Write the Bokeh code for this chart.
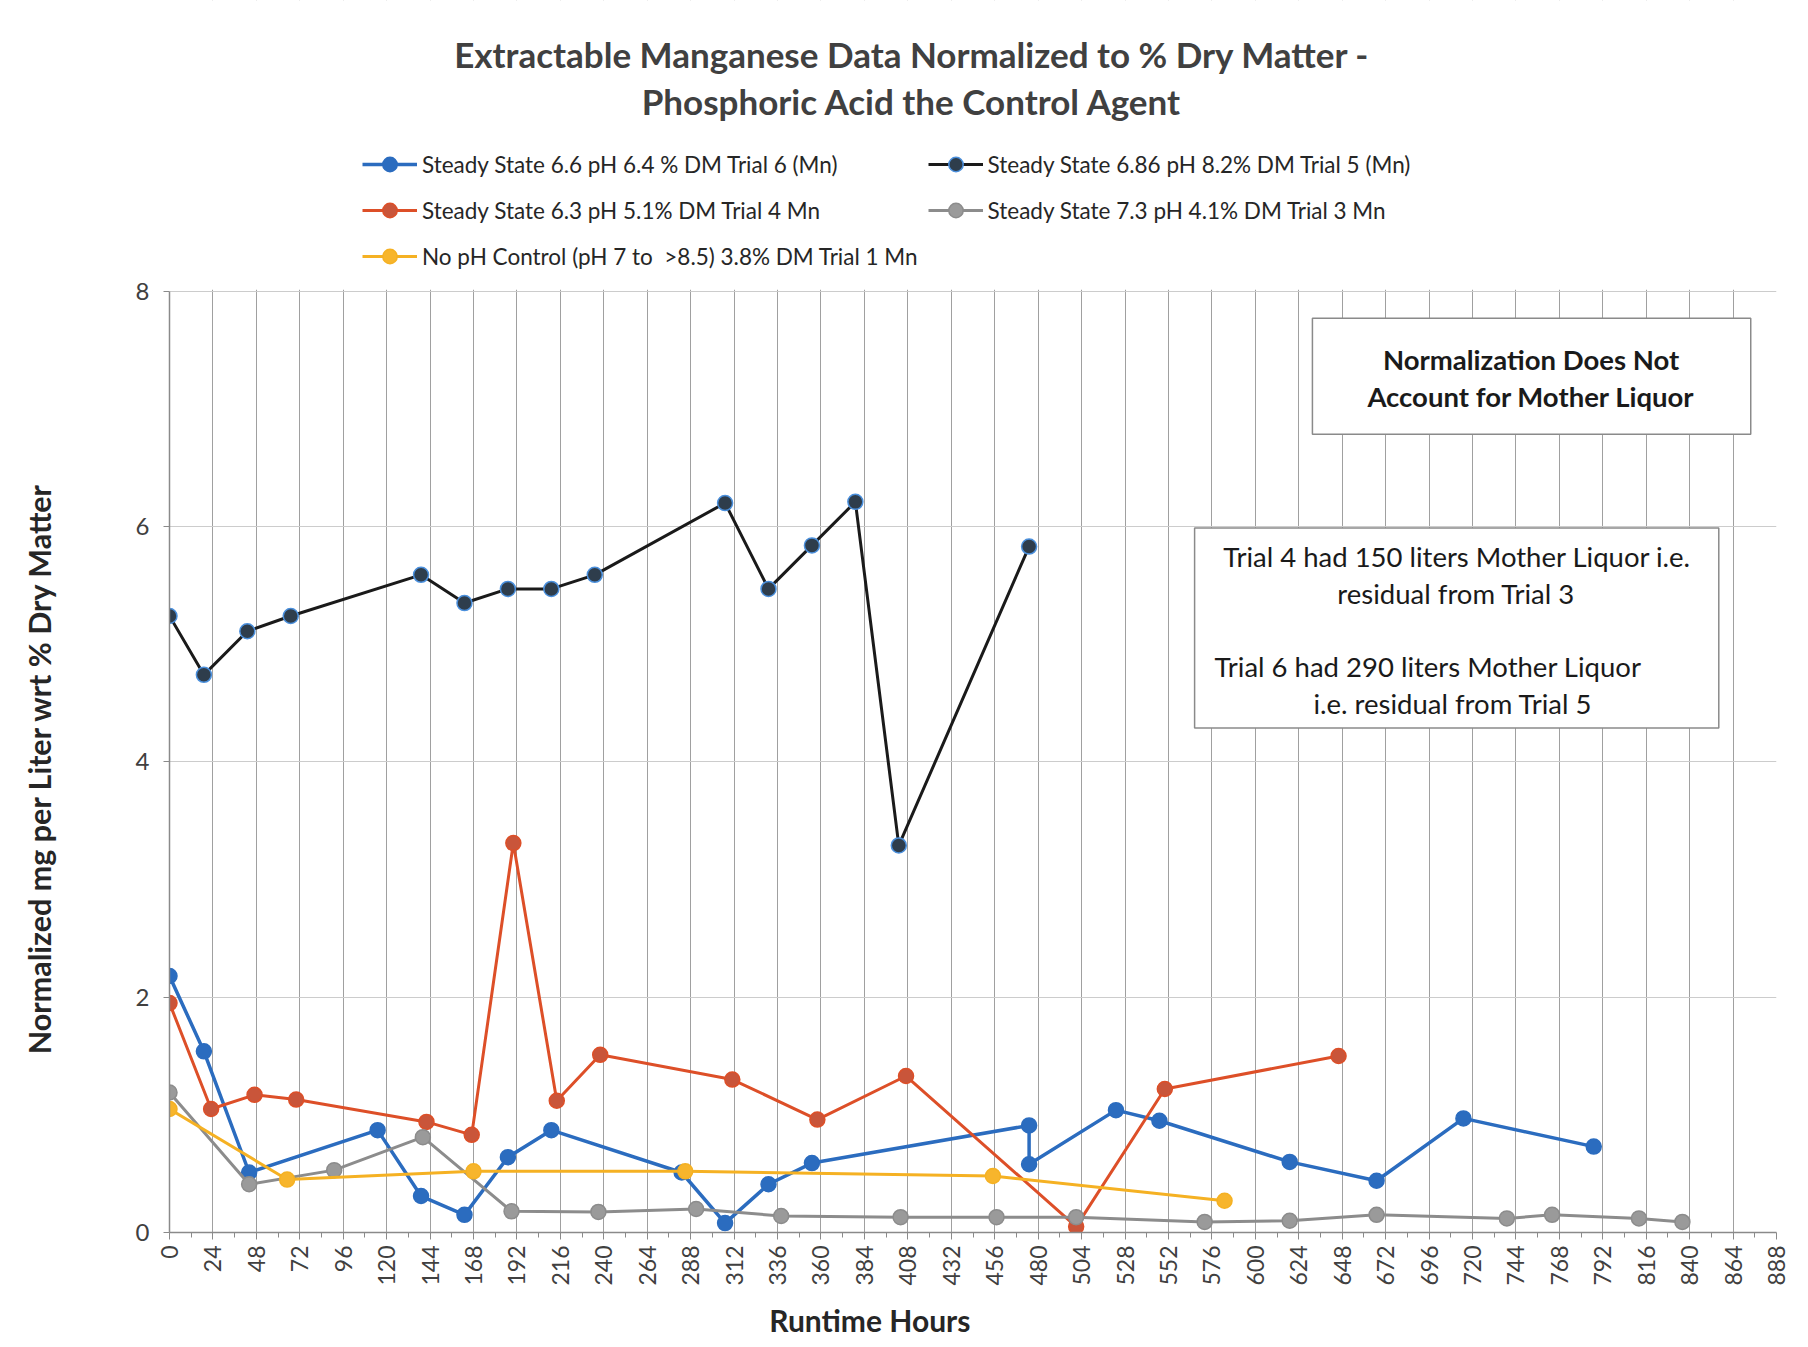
import math
from bokeh.plotting import figure
from bokeh.models import (FixedTicker, Label, Legend, LegendItem, BoxAnnotation, Range1d,
                          LinearAxis)
from bokeh.embed import file_html
from bokeh.resources import INLINE

# ---------------- data ----------------
x_ticks = list(range(0, 889, 24))
x_minor = list(range(12, 889, 24))
y_ticks = [0, 2, 4, 6, 8]

# Steady State 6.6 pH 6.4 % DM Trial 6 (Mn)  - blue
hours_t6 = [0, 19, 44, 115, 139, 163, 187, 211, 283, 307, 331, 355, 475, 475, 523, 547, 619, 667, 715, 787]
mn_t6 = [2.18, 1.54, 0.51, 0.87, 0.31, 0.15, 0.64, 0.87, 0.51, 0.08, 0.41, 0.59, 0.91, 0.58, 1.04, 0.95, 0.60, 0.44, 0.97, 0.73]

# Steady State 6.86 pH 8.2% DM Trial 5 (Mn) - black
hours_t5 = [0, 19, 43, 67, 139, 163, 187, 211, 235, 307, 331, 355, 379, 403, 475]
mn_t5 = [5.24, 4.74, 5.11, 5.24, 5.59, 5.35, 5.47, 5.47, 5.59, 6.20, 5.47, 5.84, 6.21, 3.29, 5.83]

# Steady State 6.3 pH 5.1% DM Trial 4 Mn - red
hours_t4 = [0, 23, 47, 70, 142, 167, 190, 214, 238, 311, 358, 407, 501, 550, 646]
mn_t4 = [1.95, 1.05, 1.17, 1.13, 0.94, 0.83, 3.31, 1.12, 1.51, 1.30, 0.96, 1.33, 0.05, 1.22, 1.50]

# Steady State 7.3 pH 4.1% DM Trial 3 Mn - gray
hours_t3 = [0, 44, 91, 140, 189, 237, 291, 338, 404, 457, 501, 572, 619, 667, 739, 764, 812, 836]
mn_t3 = [1.19, 0.41, 0.53, 0.81, 0.18, 0.175, 0.20, 0.14, 0.13, 0.13, 0.13, 0.09, 0.10, 0.15, 0.12, 0.15, 0.12, 0.09]

# No pH Control (pH 7 to >8.5) 3.8% DM Trial 1 Mn - yellow
hours_t1 = [0, 65, 168, 285, 455, 583]
mn_t1 = [1.05, 0.45, 0.52, 0.52, 0.48, 0.27]

labels = [
    "Steady State 6.6 pH 6.4 % DM Trial 6 (Mn)",
    "Steady State 6.86 pH 8.2% DM Trial 5 (Mn)",
    "Steady State 6.3 pH 5.1% DM Trial 4 Mn",
    "Steady State 7.3 pH 4.1% DM Trial 3 Mn",
    "No pH Control (pH 7 to  >8.5) 3.8% DM Trial 1 Mn",
]

title_lines = ["Extractable Manganese Data Normalized to % Dry Matter -",
               "Phosphoric Acid the Control Agent"]
x_label = "Runtime Hours"
y_label = "Normalized mg per Liter wrt % Dry Matter"

FONT = "Lato"

# pixel geometry of the reference plot area (0..888 h across, 0..8 up)
FX0, PXH, FY0, PYU = 167.3, 1.8125, 1233.0, 117.75
Y_TOP = FY0 / PYU  # frame reaches the top of the canvas (room for title & legend)


def dx(px):
    return (px - FX0) / PXH


def dy(py):
    return (FY0 - py) / PYU


# ---------------- figure ----------------
p = figure(width=1800, height=1340, output_backend="svg", toolbar_location=None,
           x_range=Range1d(0, 888), y_range=Range1d(0, Y_TOP),
           min_border_left=167, min_border_right=24, min_border_top=0,
           min_border_bottom=107)
p.title.visible = False
p.outline_line_color = None
p.background_fill_color = "white"
p.border_fill_color = "white"

# axes
xax = p.xaxis[0]
yax = p.yaxis[0]
xax.ticker = FixedTicker(ticks=x_ticks, minor_ticks=x_minor)
yax.ticker = FixedTicker(ticks=y_ticks)
yax.bounds = (0, 8)
xax.major_label_orientation = math.pi / 2
for ax in (xax, yax):
    ax.axis_line_color = "#8a8a8a"
    ax.axis_line_width = 1.5
    ax.major_tick_line_color = "#8a8a8a"
    ax.minor_tick_line_color = "#8a8a8a"
    ax.major_tick_in = 0
    ax.minor_tick_in = 0
    ax.major_label_text_font = FONT
    ax.major_label_text_color = "#404040"
xax.major_tick_out = 7
xax.minor_tick_out = 5
xax.major_label_text_font_size = "23px"
xax.major_label_standoff = 6
yax.major_tick_out = 6
yax.minor_tick_line_color = None
yax.major_label_text_font_size = "24px"
yax.major_label_standoff = 14

p.xgrid.grid_line_color = "#a0a0a0"
p.xgrid.grid_line_width = 1
p.ygrid.grid_line_color = "#cccccc"
p.ygrid.grid_line_width = 1.2

# white cover over the grid above the plot area (title/legend zone)
p.add_layout(BoxAnnotation(bottom=8.012, fill_color="white", fill_alpha=1,
                           line_color=None, level="underlay"))

# axis titles, placed beyond the tick labels at their reference positions
x_label_at = [387]
xlab_axis = LinearAxis(ticker=FixedTicker(ticks=x_label_at, minor_ticks=[]),
                       major_label_overrides={x_label_at[0]: x_label},
                       axis_line_color=None, major_tick_line_color=None,
                       minor_tick_line_color=None, major_tick_out=0, major_tick_in=0,
                       major_label_standoff=13, major_label_text_font=FONT,
                       major_label_text_font_style="bold",
                       major_label_text_font_size="30px",
                       major_label_text_color="#262626")
p.add_layout(xlab_axis, "below")

# rotated label is anchored at its upper end
y_label_at = [6.375]
ylab_axis = LinearAxis(ticker=FixedTicker(ticks=y_label_at, minor_ticks=[]),
                       major_label_overrides={y_label_at[0]: y_label},
                       major_label_orientation=math.pi / 2,
                       axis_line_color=None, major_tick_line_color=None,
                       minor_tick_line_color=None, major_tick_out=0, major_tick_in=0,
                       major_label_standoff=93, major_label_text_font=FONT,
                       major_label_text_font_style="bold",
                       major_label_text_font_size="30.5px",
                       major_label_text_color="#262626")
p.add_layout(ylab_axis, "left")

# ---------------- series ----------------
series = [
    (hours_t6, mn_t6, "#2b6cbf", "#2b6cbf", "#2b6cbf", 3.5),
    (hours_t5, mn_t5, "#1a1a1a", "#2e3d4c", "#4a8fdc", 3),
    (hours_t4, mn_t4, "#dd4f28", "#c9553a", "#dd4f28", 3),
    (hours_t3, mn_t3, "#8c8c8c", "#9a9a9a", "#8c8c8c", 3),
    (hours_t1, mn_t1, "#f5b123", "#f7b52c", "#f5b123", 3),
]
items = []
for (xs, ys, lc, fc, oc, lw), lab in zip(series, labels):
    r_line = p.line(xs, ys, line_color=lc, line_width=lw)
    r_pt = p.scatter(xs, ys, marker="circle", size=15, fill_color=fc,
                     line_color=oc, line_width=1.5)
    items.append(LegendItem(label=lab, renderers=[r_line, r_pt]))

legend = Legend(items=items, location=(193, 958), orientation="horizontal", ncols=2,
                glyph_width=55, glyph_height=36, label_height=36, label_standoff=5,
                spacing=10, padding=0, margin=0, border_line_color=None,
                background_fill_alpha=0, label_text_font=FONT,
                label_text_font_size="22.5px", label_text_color="#262626")
p.add_layout(legend)

# chart title
for txt, ypx in zip(title_lines, [54, 101]):
    p.add_layout(Label(x=dx(911), y=dy(ypx), text=txt, text_align="center",
                       text_baseline="middle", text_font=FONT, text_font_style="bold",
                       text_font_size="35px", text_color="#404040"))

# ---------------- note boxes ----------------
p.add_layout(BoxAnnotation(left=dx(1312), right=dx(1751), top=dy(318), bottom=dy(434),
                           fill_color="white", fill_alpha=1, line_color="#8a8a8a",
                           line_alpha=1, line_width=1.5))
p.add_layout(BoxAnnotation(left=dx(1194), right=dx(1719), top=dy(528), bottom=dy(728),
                           fill_color="white", fill_alpha=1, line_color="#8a8a8a",
                           line_alpha=1, line_width=1.5))

note1 = ["Normalization Does Not", "Account for Mother Liquor"]
for txt, ypx in zip(note1, [359, 396]):
    p.add_layout(Label(x=dx(1531), y=dy(ypx), text=txt, text_align="center",
                       text_baseline="middle", text_font=FONT, text_font_style="bold",
                       text_font_size="27.5px", text_color="#1a1a1a"))

note2 = [("Trial 4 had 150 liters Mother Liquor i.e.", 1457, 556, "center"),
         ("residual from Trial 3", 1456, 593, "center"),
         ("Trial 6 had 290 liters Mother Liquor", 1214, 667, "left"),
         ("i.e. residual from Trial 5", 1313, 704, "left")]
for txt, xpx, ypx, al in note2:
    p.add_layout(Label(x=dx(xpx), y=dy(ypx), text=txt, text_align=al,
                       text_baseline="middle", text_font=FONT,
                       text_font_size="27.5px", text_color="#1a1a1a"))

open("out.html", "w").write(file_html(p, INLINE))
